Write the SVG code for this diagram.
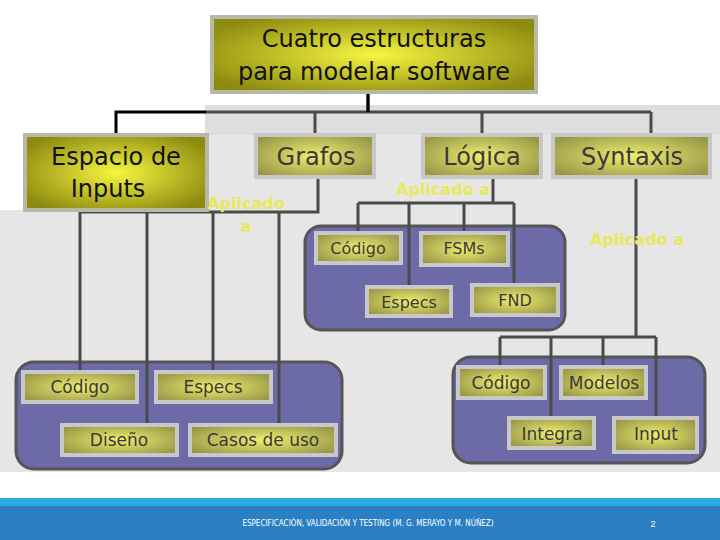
<svg xmlns="http://www.w3.org/2000/svg" width="720" height="540" viewBox="0 0 720 540">
<defs>
<radialGradient id="gBig" cx="50%" cy="50%" r="60%"><stop offset="0" stop-color="#f6f640"/><stop offset="1" stop-color="#8c8a10"/></radialGradient>
<radialGradient id="gSm" cx="50%" cy="50%" r="60%"><stop offset="0" stop-color="#eeee70"/><stop offset="1" stop-color="#9a9848"/></radialGradient>
<style>
.big{fill:url(#gBig);stroke:#b8b8a8;stroke-width:4}
.sm{fill:url(#gSm);stroke:#c8c8c8;stroke-width:4}
.pan{fill:#6c6ba8;stroke:#555;stroke-width:3}
.t{font-family:"DejaVu Sans",sans-serif;fill:#3a3a3a;text-anchor:middle}
.tb{font-family:"DejaVu Sans",sans-serif;fill:#111;text-anchor:middle}
.ap{font-family:"DejaVu Sans",sans-serif;fill:#e8e860;font-size:16px;font-weight:bold;text-anchor:middle}
.ln{stroke:#4a4a4a;stroke-width:3;fill:none}
</style>
</defs>
<rect width="720" height="540" fill="#fff"/>
<path d="M205 105H720V472H0V210H205Z" fill="#e6e6e6"/>
<rect x="205" y="105" width="515" height="30" fill="#dedede"/>
<g id="panels">
<rect class="pan" x="305" y="226" width="260" height="104" rx="16"/>
<rect class="pan" x="16" y="362" width="326" height="107" rx="18"/>
<rect class="pan" x="453" y="357" width="252" height="106" rx="18"/>
</g>
<g id="connectors">
<path class="ln" d="M368 92V112M206 112H651M315 112V135M482 112V135M651 112V135" />
<path d="M116 135V112H206M368 92V112" stroke="#000" stroke-width="3" fill="none"/>
<path class="ln" d="M318 177V212H80M80 212V373M147 212V425M213 212V373M279 212V425"/>
<path class="ln" d="M493 177V203M358 203H514M358 203V233M409 203V288M464 203V233M514 203V285"/>
<path class="ln" d="M636 177V337M500 337H656M500 337V367M551 337V418M603 337V367M656 337V418"/>
</g>
<g id="n-top"><rect class="big" x="212" y="17" width="324" height="75"/><text class="tb" x="374" y="47" font-size="24">Cuatro estructuras</text><text class="tb" x="374" y="80" font-size="24">para modelar software</text></g>
<g id="n-espacio"><rect class="big" x="25" y="135" width="182" height="75"/><text class="tb" x="116" y="165" font-size="24">Espacio de</text><text class="tb" x="108" y="197" font-size="24">Inputs</text></g>
<g id="n-grafos"><rect class="sm" x="256" y="135" width="118" height="42"/><text class="t" x="316" y="165" font-size="24">Grafos</text></g>
<g id="n-logica"><rect class="sm" x="423" y="135" width="118" height="42"/><text class="t" x="482" y="165" font-size="24">Lógica</text></g>
<g id="n-syntaxis"><rect class="sm" x="553" y="135" width="157" height="42"/><text class="t" x="632" y="165" font-size="24">Syntaxis</text></g>
<g id="labels">
<text class="ap" x="246" y="209">Aplicado</text><text class="ap" x="246" y="232">a</text>
<text class="ap" x="443" y="195">Aplicado a</text>
<text class="ap" x="637" y="245">Aplicado a</text>
</g>
<g id="n-codigo1"><rect class="sm" x="316" y="233" width="85" height="30"/><text class="t" x="358" y="254" font-size="16">Código</text></g>
<g id="n-fsms"><rect class="sm" x="421" y="233" width="87" height="32"/><text class="t" x="464" y="254" font-size="16">FSMs</text></g>
<g id="n-especs1"><rect class="sm" x="367" y="287" width="84" height="29"/><text class="t" x="409" y="308" font-size="16">Especs</text></g>
<g id="n-fnd"><rect class="sm" x="472" y="285" width="86" height="30"/><text class="t" x="515" y="306" font-size="16">FND</text></g>
<g id="n-codigo2"><rect class="sm" x="23" y="372" width="114" height="30"/><text class="t" x="80" y="393" font-size="17">Código</text></g>
<g id="n-especs2"><rect class="sm" x="156" y="372" width="115" height="30"/><text class="t" x="213" y="393" font-size="17">Especs</text></g>
<g id="n-diseno"><rect class="sm" x="62" y="425" width="115" height="30"/><text class="t" x="119" y="446" font-size="17">Diseño</text></g>
<g id="n-casos"><rect class="sm" x="190" y="425" width="146" height="30"/><text class="t" x="263" y="446" font-size="17">Casos de uso</text></g>
<g id="n-codigo3"><rect class="sm" x="458" y="367" width="87" height="31"/><text class="t" x="501" y="389" font-size="17">Código</text></g>
<g id="n-modelos"><rect class="sm" x="561" y="367" width="85" height="31"/><text class="t" x="604" y="389" font-size="17">Modelos</text></g>
<g id="n-integra"><rect class="sm" x="509" y="418" width="85" height="30"/><text class="t" x="552" y="440" font-size="17">Integra</text></g>
<g id="n-input"><rect class="sm" x="614" y="418" width="83" height="34"/><text class="t" x="656" y="440" font-size="17">Input</text></g>
<g id="footer">
<rect x="0" y="498" width="720" height="8" fill="#29abe2"/>
<rect x="0" y="506" width="720" height="34" fill="#2a80c3"/>
<text x="368" y="526" font-family="'Liberation Sans Narrow','DejaVu Sans Condensed',sans-serif" font-size="8" fill="#fff" text-anchor="middle">ESPECIFICACIÓN, VALIDACIÓN Y TESTING (M. G. MERAYO Y M. NÚÑEZ)</text>
<text x="653" y="527" font-family="'Liberation Sans',sans-serif" font-size="9" fill="#fff" text-anchor="middle">2</text>
</g>
</svg>
